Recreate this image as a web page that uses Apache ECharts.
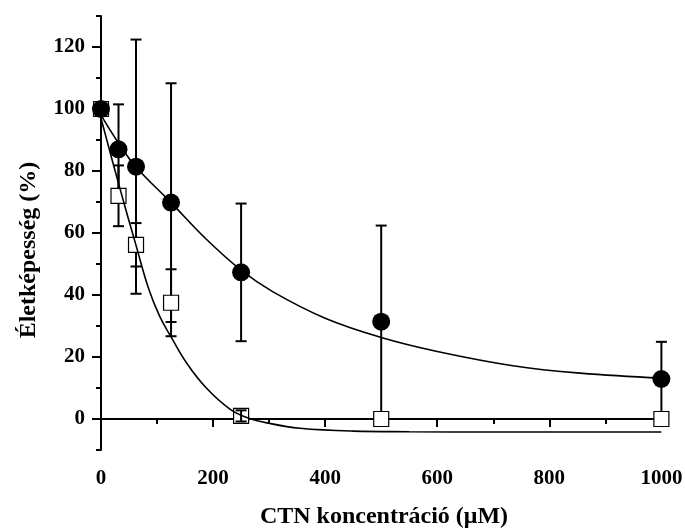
<!DOCTYPE html>
<html>
<head>
<meta charset="utf-8">
<script src="https://cdn.jsdelivr.net/npm/echarts@6/dist/echarts.min.js"></script>
<style>html,body{margin:0;padding:0;background:#fff;}#c{width:685px;height:528px;}</style>
</head>
<body>
<div id="c"></div>
<script>
// ---- data ----
const concentrations = [0, 31.25, 62.5, 125, 250, 500, 1000];
const circleMean = [100, 87, 81.4, 69.8, 47.3, 31.4, 12.9];
const circleErr  = [0, 14.5, 41, 38.5, 22.2, 31, 12];
const squareMean = [100, 72, 56.2, 37.5, 1, 0, 0];
const squareErr  = [0, 9.8, 7, 10.8, 1.8, 0, 0];

const circleFitX = [0, 31.25, 62.5, 125, 185, 250, 307, 400, 500, 600, 735, 855, 1000];
const circleFitY = [98, 89, 81.3, 69.8, 58.5, 48, 41, 32.5, 26.3, 21.8, 17.2, 14.8, 13.2];
const squareFitX = [0, 31.25, 62.5, 85, 105, 125, 153, 188, 230, 260, 300, 355, 450, 550, 700, 1000];
const squareFitY = [97, 76, 56, 42, 33, 26.5, 18, 10, 3.2, 0.5, -1.4, -3, -3.9, -4.1, -4.2, -4.2];

const xMajorTicks = [0, 200, 400, 600, 800, 1000];
const xMinorTicks = [100, 300, 500, 700, 900];
const yMajorTicks = [0, 20, 40, 60, 80, 100, 120];
const yMinorTicks = [-10, 10, 30, 50, 70, 90, 110, 130];

const xTitle = 'CTN koncentráció (μM)';
const yTitle = 'Életképesség (%)';

// ---- build ----
const zip = (a, b) => a.map((v, i) => [v, b[i]]);
const errData = (m, e) => concentrations.map((x, i) => [x, m[i], e[i]]);

const FONT = '"Liberation Serif", "Times New Roman", serif';

function errRender(gap) {
  return function (params, api) {
    const x = api.value(0), m = api.value(1), e = api.value(2);
    if (!(e > 0)) return null;
    const c = api.coord([x, m]);
    const t = api.coord([x, m + e]);
    const b = api.coord([x, m - e]);
    const hw = 5.5;
    const st = { stroke: '#000', lineWidth: 2 };
    const up0 = (c[1] - t[1] > gap) ? c[1] - gap : c[1];
    const dn0 = (b[1] - c[1] > gap) ? c[1] + gap : c[1];
    return {
      type: 'group',
      children: [
        { type: 'line', shape: { x1: c[0], y1: up0, x2: c[0], y2: t[1] }, style: st },
        { type: 'line', shape: { x1: c[0], y1: dn0, x2: c[0], y2: b[1] }, style: st },
        { type: 'line', shape: { x1: c[0] - hw, y1: t[1], x2: c[0] + hw, y2: t[1] }, style: st },
        { type: 'line', shape: { x1: c[0] - hw, y1: b[1], x2: c[0] + hw, y2: b[1] }, style: st }
      ]
    };
  };
}

const axisLineStyle = { color: '#000', width: 2 };
const labelStyle = { color: '#000', fontFamily: FONT, fontWeight: 'bold', fontSize: 21 };
const nameStyle = { color: '#000', fontFamily: FONT, fontWeight: 'bold', fontSize: 24 };
const plain = v => String(v);

const option = {
  animation: false,
  backgroundColor: '#fff',
  grid: { left: 101, right: 18, top: 16, bottom: 78, containLabel: false, outerBoundsMode: 'none' },
  xAxis: [
    {
      type: 'value', min: 0, max: 1010, position: 'bottom',
      name: xTitle, nameLocation: 'middle', nameGap: 55, nameTextStyle: nameStyle,
      axisLine: { show: true, lineStyle: axisLineStyle },
      axisTick: { show: true, inside: false, length: 8, customValues: xMajorTicks, lineStyle: { color: '#000', width: 2 } },
      axisLabel: { show: true, customValues: xMajorTicks, margin: 18, formatter: plain, ...labelStyle },
      splitLine: { show: false }
    },
    {
      type: 'value', min: 0, max: 1010, position: 'bottom',
      axisLine: { show: false },
      axisTick: { show: true, inside: false, length: 5, customValues: xMinorTicks, lineStyle: { color: '#000', width: 2 } },
      axisLabel: { show: false },
      splitLine: { show: false }
    }
  ],
  yAxis: [
    {
      type: 'value', min: -10, max: 130, position: 'left',
      name: yTitle, nameLocation: 'middle', nameGap: 60, nameRotate: 90,
      nameTextStyle: Object.assign({}, nameStyle, { padding: [0, 34, 0, 0] }),
      axisLine: { show: true, lineStyle: axisLineStyle },
      axisTick: { show: true, inside: false, length: 9, customValues: yMajorTicks, lineStyle: { color: '#000', width: 2 } },
      axisLabel: { show: true, customValues: yMajorTicks, margin: 16, formatter: plain, ...labelStyle },
      splitLine: { show: false }
    },
    {
      type: 'value', min: -10, max: 130, position: 'left',
      axisLine: { show: false },
      axisTick: { show: true, inside: false, length: 5, customValues: yMinorTicks, lineStyle: { color: '#000', width: 2 } },
      axisLabel: { show: false },
      splitLine: { show: false }
    }
  ],
  series: [
    {
      type: 'custom', name: 'circleErr', z: 2,
      renderItem: errRender(0),
      encode: { x: 0, y: 1 },
      data: errData(circleMean, circleErr)
    },
    {
      type: 'line', name: 'circleFit', z: 3, smooth: 0.4, showSymbol: false, symbol: 'none',
      lineStyle: { color: '#000', width: 1.6 },
      data: zip(circleFitX, circleFitY)
    },
    {
      type: 'scatter', name: 'square', z: 4, symbol: 'rect', symbolSize: 15,
      itemStyle: { color: '#fff', borderColor: '#000', borderWidth: 1.2, opacity: 1 },
      data: zip(concentrations, squareMean)
    },
    {
      type: 'custom', name: 'squareErr', z: 5,
      renderItem: errRender(7.5),
      encode: { x: 0, y: 1 },
      data: errData(squareMean, squareErr)
    },
    {
      type: 'line', name: 'squareFit', z: 6, smooth: 0.4, showSymbol: false, symbol: 'none',
      lineStyle: { color: '#000', width: 1.6 },
      data: zip(squareFitX, squareFitY)
    },
    {
      type: 'scatter', name: 'circle', z: 7, symbol: 'circle', symbolSize: 18,
      itemStyle: { color: '#000', opacity: 1 },
      data: zip(concentrations, circleMean)
    }
  ]
};

const chart = echarts.init(document.getElementById('c'), null, { renderer: 'canvas' });
chart.setOption(option);
</script>
</body>
</html>
